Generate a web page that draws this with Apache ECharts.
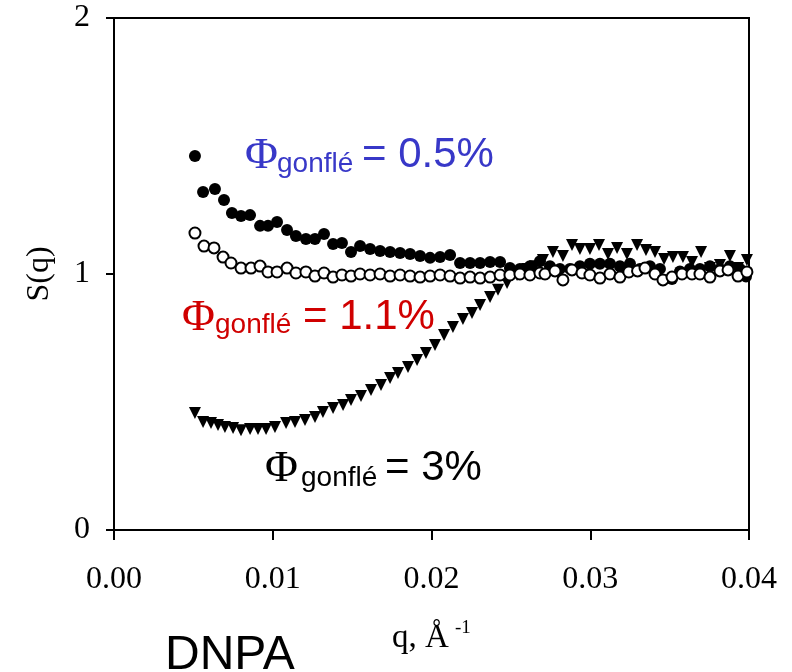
<!DOCTYPE html>
<html>
<head>
<meta charset="utf-8">
<script src="https://cdn.jsdelivr.net/npm/echarts@6/dist/echarts.min.js"></script>
<style>html,body{margin:0;padding:0;background:#fff;}#c{width:792px;height:672px;}</style>
</head>
<body>
<div id="c"></div>
<script>
// Φ = 0.5% (filled circles)
const qFilled = [0.00510,0.00561,0.00636,0.00693,0.00743,0.00800,0.00857,0.00920,0.00970,0.01027,0.01090,0.01146,0.01209,0.01266,0.01323,0.01380,0.01436,0.01493,0.01550,0.01613,0.01676,0.01739,0.01802,0.01865,0.01928,0.01991,0.02054,0.02117,0.02180,0.02243,0.02306,0.02369,0.02432,0.02494,0.02557,0.02620,0.02683,0.02746,0.02809,0.02872,0.02935,0.02998,0.03061,0.03124,0.03187,0.03250,0.03313,0.03376,0.03439,0.03515,0.03565,0.03628,0.03691,0.03754,0.03817,0.03880,0.03943,0.03981];
const sFilled = [1.461,1.320,1.332,1.289,1.238,1.227,1.230,1.188,1.188,1.203,1.172,1.148,1.137,1.137,1.156,1.117,1.121,1.086,1.109,1.098,1.090,1.086,1.082,1.078,1.070,1.063,1.066,1.074,1.043,1.043,1.043,1.047,1.047,1.023,1.020,1.030,1.050,1.030,1.020,1.020,1.030,1.040,1.040,1.040,1.030,1.040,1.020,1.030,1.020,0.980,1.010,1.020,1.020,1.030,1.020,1.030,1.020,0.990];
// Φ = 1.1% (open circles)
const qOpen = [0.00510,0.00567,0.00630,0.00687,0.00737,0.00800,0.00863,0.00920,0.00970,0.01027,0.01090,0.01146,0.01209,0.01266,0.01323,0.01380,0.01436,0.01493,0.01550,0.01613,0.01676,0.01739,0.01802,0.01865,0.01928,0.01991,0.02054,0.02117,0.02180,0.02243,0.02306,0.02369,0.02432,0.02494,0.02557,0.02620,0.02683,0.02715,0.02778,0.02828,0.02885,0.02948,0.02998,0.03061,0.03124,0.03187,0.03243,0.03298,0.03345,0.03408,0.03458,0.03515,0.03578,0.03641,0.03691,0.03754,0.03817,0.03868,0.03931,0.03987];
const sOpen = [1.160,1.109,1.102,1.066,1.043,1.023,1.023,1.031,1.008,1.008,1.023,1.004,1.008,0.992,1.004,0.988,0.996,0.992,1.000,0.996,1.000,0.992,0.996,0.992,0.988,0.992,0.996,0.992,0.984,0.988,0.984,0.988,0.996,0.996,1.000,0.996,1.004,1.000,1.012,0.977,1.016,1.004,0.996,0.984,1.000,0.988,1.008,1.012,1.023,1.000,0.977,0.988,1.000,1.000,1.000,0.988,1.012,1.016,0.992,1.008];
// Φ = 3% (triangles)
const qTri = [0.00510,0.00561,0.00611,0.00655,0.00699,0.00750,0.00800,0.00857,0.00907,0.00958,0.01014,0.01084,0.01140,0.01203,0.01266,0.01316,0.01380,0.01443,0.01493,0.01556,0.01619,0.01682,0.01739,0.01789,0.01852,0.01909,0.01965,0.02022,0.02079,0.02135,0.02198,0.02255,0.02306,0.02369,0.02419,0.02476,0.02539,0.02602,0.02652,0.02702,0.02765,0.02828,0.02885,0.02935,0.02998,0.03055,0.03112,0.03169,0.03231,0.03295,0.03351,0.03408,0.03465,0.03521,0.03584,0.03641,0.03698,0.03754,0.03817,0.03880,0.03931,0.03987];
const sTri = [0.457,0.422,0.418,0.410,0.402,0.398,0.390,0.395,0.395,0.395,0.402,0.418,0.422,0.430,0.441,0.461,0.477,0.488,0.508,0.523,0.547,0.566,0.594,0.613,0.637,0.664,0.691,0.723,0.762,0.793,0.824,0.848,0.879,0.910,0.938,0.965,0.996,1.020,1.030,1.055,1.086,1.070,1.113,1.098,1.098,1.113,1.078,1.102,1.078,1.113,1.094,1.086,1.059,1.066,1.066,1.047,1.086,1.023,1.035,1.070,1.023,1.055];

const xTicks = [0, 0.01, 0.02, 0.03, 0.04];
const yTicks = [0, 1, 2];

const zip = (a, b) => a.map((v, i) => [v, b[i]]);
const chart = echarts.init(document.getElementById('c'));
const serif = 'Liberation Serif';

chart.setOption({
  animation: false,
  backgroundColor: '#fff',
  grid: {left: 114, top: 18, right: 43, bottom: 142, show: true, borderColor: '#000', borderWidth: 2, backgroundColor: 'transparent'},
  xAxis: {
    type: 'value', min: xTicks[0], max: xTicks[xTicks.length-1], interval: 0.01,
    axisLine: {show: true, lineStyle: {color: '#000', width: 2}},
    axisTick: {show: true, inside: false, length: 10, lineStyle: {color: '#000', width: 2}},
    splitLine: {show: false},
    axisLabel: {fontFamily: serif, fontSize: 32, color: '#000', margin: 34, formatter: v => v.toFixed(2)}
  },
  yAxis: {
    type: 'value', min: yTicks[0], max: yTicks[yTicks.length-1], interval: 1,
    axisLine: {show: true, lineStyle: {color: '#000', width: 2}},
    axisTick: {show: true, inside: false, length: 8, lineStyle: {color: '#000', width: 2}},
    splitLine: {show: false},
    axisLabel: {fontFamily: serif, fontSize: 32, color: '#000', margin: 24},
    name: 'S(q)', nameLocation: 'middle', nameRotate: 90, nameGap: 58,
    nameTextStyle: {fontFamily: serif, fontSize: 32, color: '#000'}
  },
  series: [
    {type: 'scatter', data: zip(qFilled, sFilled), symbol: 'circle', symbolSize: 12,
     itemStyle: {color: '#000', opacity: 1}},
    {type: 'scatter', data: zip(qTri, sTri), symbol: 'triangle', symbolRotate: 180, symbolSize: 12,
     itemStyle: {color: '#000', opacity: 1}},
    {type: 'scatter', data: zip(qOpen, sOpen), symbol: 'circle', symbolSize: 11,
     itemStyle: {color: '#fff', borderColor: '#000', borderWidth: 2, opacity: 1}}
  ],
  graphic: [
    {type: 'text', left: 245, top: 134, style: {text: 'Φ', font: '45px "Liberation Serif"', fill: '#3838c8'}},
    {type: 'text', left: 277, top: 150, style: {text: 'gonflé', font: '28px "Liberation Sans"', fill: '#3838c8'}},
    {type: 'text', left: 362, top: 134, style: {text: '= 0.5%', font: '42px "Liberation Sans"', fill: '#3838c8'}},

    {type: 'text', left: 182, top: 296, style: {text: 'Φ', font: '45px "Liberation Serif"', fill: '#d00000'}},
    {type: 'text', left: 215, top: 311, style: {text: 'gonflé', font: '28px "Liberation Sans"', fill: '#d00000'}},
    {type: 'text', left: 303, top: 296, style: {text: '= 1.1%', font: '42px "Liberation Sans"', fill: '#d00000'}},

    {type: 'text', left: 265, top: 447, style: {text: 'Φ', font: '45px "Liberation Serif"', fill: '#000'}},
    {type: 'text', left: 301, top: 464, style: {text: 'gonflé', font: '28px "Liberation Sans"', fill: '#000'}},
    {type: 'text', left: 385, top: 447, style: {text: '= 3%', font: '42px "Liberation Sans"', fill: '#000'}},

    {type: 'text', left: 392, top: 622, style: {text: 'q, Å', font: '33px "Liberation Serif"', fill: '#000'}},
    {type: 'text', left: 455, top: 619, style: {text: '-1', font: '19px "Liberation Serif"', fill: '#000'}},
    {type: 'text', left: 165, top: 632, style: {text: 'DNPA', font: '48px "Liberation Sans"', fill: '#000'}}
  ]
});
</script>
</body>
</html>
